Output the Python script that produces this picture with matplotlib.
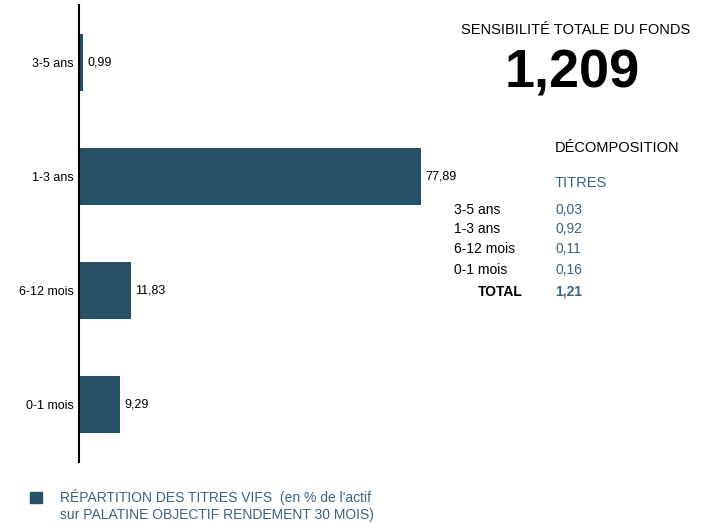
import matplotlib.pyplot as plt

plt.rcParams['font.family'] = ['Liberation Sans', 'DejaVu Sans']

# bar chart data (bottom to top)
categories = ['0-1 mois', '6-12 mois', '1-3 ans', '3-5 ans']
repartition = [9.29, 11.83, 77.89, 0.99]

# decomposition table
decomp_labels = ['3-5 ans', '1-3 ans', '6-12 mois', '0-1 mois']
decomp_values = ['0,03', '0,92', '0,11', '0,16']
total_value = '1,21'
sensibilite = '1,209'

bar_color = '#274f66'
text_blue = '#3d6180'

fig = plt.figure(figsize=(7.1, 5.3), dpi=100)
ax = fig.add_axes([79 / 710, 1 - 462 / 530, 439 / 710, 457 / 530])

ypos = range(len(categories))
bars = ax.barh(ypos, repartition, height=0.5, color=bar_color)
ax.set_xlim(0, 100)
ax.set_ylim(-0.5, 3.5)
ax.set_yticks(list(ypos))
ax.set_yticklabels(categories, fontsize=9)
ax.tick_params(axis='y', length=0, pad=4)
ax.set_xticks([])
for s in ['top', 'right', 'bottom']:
    ax.spines[s].set_visible(False)
ax.spines['left'].set_linewidth(1.5)

for b, v in zip(bars, repartition):
    ax.annotate(f'{v:.2f}'.replace('.', ','),
                (b.get_width(), b.get_y() + b.get_height() / 2),
                xytext=(3, 0), textcoords='offset points',
                va='center', ha='left', fontsize=9)

# right panel
def px(x, y):
    return x / 710, 1 - y / 530

fig.text(*px(576, 30), 'SENSIBILITÉ TOTALE DU FONDS', ha='center', va='center', fontsize=10.5)
fig.text(*px(572, 74), sensibilite, ha='center', va='center', fontsize=39, fontweight='bold')
fig.text(*px(555, 148), 'DÉCOMPOSITION', ha='left', va='center', fontsize=10.5)
fig.text(*px(555, 183), 'TITRES', ha='left', va='center', fontsize=10.5, color=text_blue)

row_y = [210, 229, 249, 270]
for lab, val, y in zip(decomp_labels, decomp_values, row_y):
    fig.text(*px(454, y), lab, ha='left', va='center', fontsize=10)
    fig.text(*px(555, y), val, ha='left', va='center', fontsize=10, color=text_blue)
fig.text(*px(523, 292), 'TOTAL', ha='right', va='center', fontsize=10, fontweight='bold')
fig.text(*px(555, 292), total_value, ha='left', va='center', fontsize=10,
         fontweight='bold', color=text_blue)

# legend
fig.patches.append(plt.Rectangle(px(30, 503), 12 / 710, 11 / 530,
                                 transform=fig.transFigure, color=bar_color))
fig.text(*px(60, 497), "RÉPARTITION DES TITRES VIFS  (en % de l'actif", ha='left',
         va='center', fontsize=10, color=text_blue)
fig.text(*px(60, 515), 'sur PALATINE OBJECTIF RENDEMENT 30 MOIS)', ha='left',
         va='center', fontsize=10, color=text_blue)

fig.savefig('out.png', dpi=100)
